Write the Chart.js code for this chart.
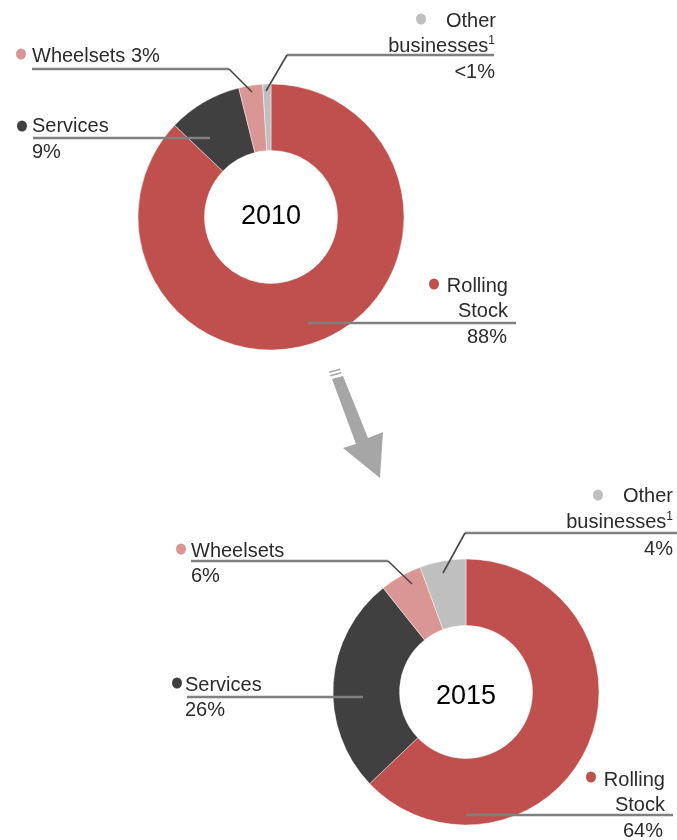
<!DOCTYPE html>
<html>
<head>
<meta charset="utf-8">
<script src="https://cdn.jsdelivr.net/npm/chart.js@4/dist/chart.umd.min.js"></script>
<style>
  html, body { margin: 0; padding: 0; background: #ffffff; }
  #page { position: relative; width: 677px; height: 840px; overflow: hidden; background: #fff; }
  canvas { position: absolute; }
  #c2010 { left: 131px; top: 77px; }
  #c2015 { left: 326px; top: 552px; }
  svg { position: absolute; left: 0; top: 0; }
  text { font-family: "Liberation Sans", Arial, Helvetica, sans-serif; font-size: 20px; fill: #2b2b2b; }
  .yr { font-size: 27px; fill: #000; }
  .lead { stroke: #808080; stroke-width: 2.5; fill: none; }
  .diag { stroke: #454545; stroke-width: 1.6; fill: none; }
</style>
</head>
<body>
<div id="page">
  <canvas id="c2010" width="280" height="280"></canvas>
  <canvas id="c2015" width="280" height="280"></canvas>
  <svg id="ov" width="677" height="840" xmlns="http://www.w3.org/2000/svg"></svg>
</div>
<script>
// ---- data ----
const categories = ['Rolling Stock', 'Services', 'Wheelsets', 'Other businesses'];
const years = ['2010', '2015'];
const shares2010 = [87.1, 9.0, 2.9, 1.0];
const shares2015 = [62.9, 26.4, 5.1, 5.6];
const pctLabels2010 = ['88%', '9%', '3%', '<1%'];
const pctLabels2015 = ['64%', '26%', '6%', '4%'];
const segmentColors = ['#c0504d', '#404040', '#d99694', '#bfbfbf'];

function makeDonut(id, values) {
  return new Chart(document.getElementById(id), {
    type: 'doughnut',
    data: {
      labels: categories,
      datasets: [{
        data: values,
        backgroundColor: segmentColors,
        borderColor: 'rgba(255,255,255,0.55)',
        borderWidth: 0.8,
        hoverOffset: 0
      }]
    },
    options: {
      responsive: false,
      animation: false,
      radius: 133,
      cutout: '50%',
      rotation: 0,
      layout: { padding: 0 },
      plugins: { legend: { display: false }, tooltip: { enabled: false } },
      events: []
    }
  });
}
makeDonut('c2010', shares2010);
makeDonut('c2015', shares2015);

// ---- annotations (labels, leader lines, arrow) ----
const NS = 'http://www.w3.org/2000/svg';
const svg = document.getElementById('ov');
function el(tag, attrs, parent) {
  const e = document.createElementNS(NS, tag);
  for (const k in attrs) e.setAttribute(k, attrs[k]);
  (parent || svg).appendChild(e);
  return e;
}
function txt(x, y, s, anchor, cls) {
  const t = el('text', { x: x, y: y, 'text-anchor': anchor || 'start' });
  if (cls) t.setAttribute('class', cls);
  t.textContent = s;
  return t;
}
function supTxt(x, y, s, sup) {
  const t = el('text', { x: x, y: y, 'text-anchor': 'end' });
  t.appendChild(document.createTextNode(s));
  const ts = el('tspan', { dy: -8, 'font-size': 12 }, t);
  ts.textContent = sup;
  return t;
}
function dot(x, y, c) { el('ellipse', { cx: x, cy: y, rx: 5, ry: 5.6, fill: c }); }
function line(pts, cls) { el('polyline', { points: pts.map(p => p.join(',')).join(' '), class: cls }); }

// 2010
txt(271, 224, years[0], 'middle', 'yr');
dot(421, 19, segmentColors[3]);
txt(496, 27, 'Other', 'end');
supTxt(495, 52, 'businesses', '1');
txt(495, 78, pctLabels2010[3], 'end');
line([[287, 55], [494, 55]], 'lead');
line([[287, 55], [266, 91]], 'diag');

dot(21, 54, segmentColors[2]);
txt(32, 62, 'Wheelsets ' + pctLabels2010[2]);
line([[32, 69], [229, 69]], 'lead');
line([[229, 69], [252, 92]], 'diag');

dot(22, 126, segmentColors[1]);
txt(32, 132, 'Services');
line([[33, 138], [210, 138]], 'lead');
txt(32, 158, pctLabels2010[1]);

dot(434, 284, segmentColors[0]);
txt(508, 292, 'Rolling', 'end');
txt(508, 317, 'Stock', 'end');
line([[308, 323], [516, 323]], 'lead');
txt(507, 343, pctLabels2010[0], 'end');

// 2015
txt(466, 704, years[1], 'middle', 'yr');
dot(598, 495, segmentColors[3]);
txt(673, 502, 'Other', 'end');
supTxt(673, 528, 'businesses', '1');
txt(673, 555, pctLabels2015[3], 'end');
line([[465, 533], [677, 533]], 'lead');
line([[465, 533], [443, 573]], 'diag');

dot(181, 549, segmentColors[2]);
txt(191, 557, 'Wheelsets');
line([[191, 561], [388, 561]], 'lead');
line([[388, 561], [412, 584]], 'diag');
txt(191, 582, pctLabels2015[2]);

dot(177, 683, segmentColors[1]);
txt(185, 691, 'Services');
line([[187, 697], [363, 697]], 'lead');
txt(185, 716, pctLabels2015[1]);

dot(591, 777, segmentColors[0]);
txt(665, 786, 'Rolling', 'end');
txt(665, 811, 'Stock', 'end');
line([[466, 815], [673, 815]], 'lead');
txt(663, 837, pctLabels2015[0], 'end');

// arrow between the two years
el('polygon', { points: '332,379 343,376 368,438 383,432 380,478 343,448 356,444', fill: '#a6a6a6' });
el('polygon', { points: '330,375 341,372 341.6,373.6 330.6,376.6', fill: '#a6a6a6' });
el('polygon', { points: '329,371.5 340,368.5 340.5,370 329.5,373', fill: '#a6a6a6' });
</script>
</body>
</html>
